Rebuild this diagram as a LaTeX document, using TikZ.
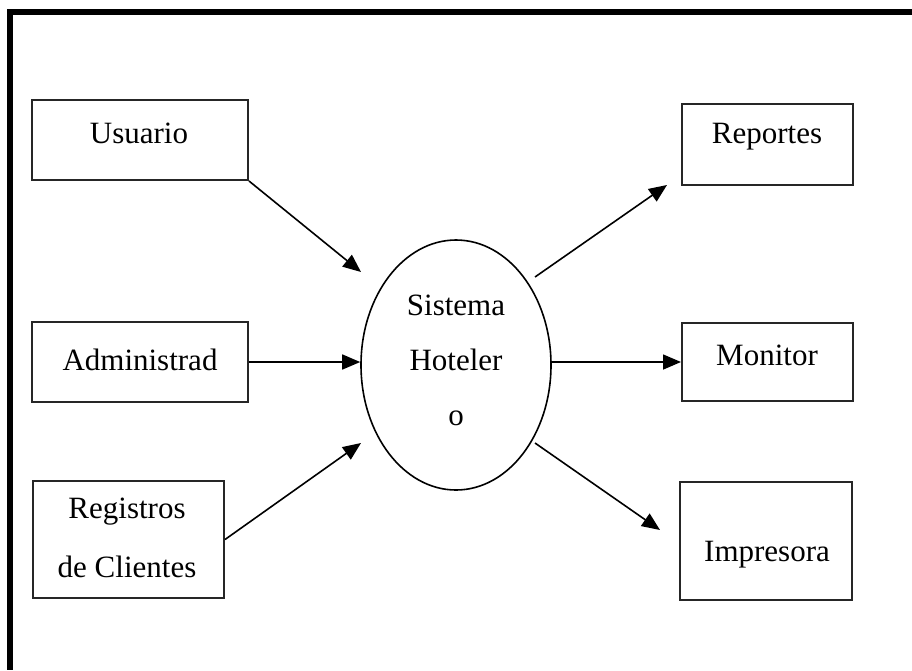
\documentclass[tikz,border=0pt]{standalone}
\usepackage{fontspec}
\setmainfont{Liberation Serif}
\usetikzlibrary{arrows.meta,shapes.geometric}
\begin{document}
\begin{tikzpicture}[x=1pt,y=-1pt,
  box/.style={draw=black!85,line width=2pt,rectangle,inner sep=0pt},
  txt/.style={font=\fontsize{31}{55}\selectfont,inner sep=0pt,align=center},
  flow/.style={line width=1.6pt,-{Triangle[length=18pt,width=15pt]}},
  frame/.style={line width=6pt,miter limit=10}]
\useasboundingbox (0,0) rectangle (912,670);
% frame edges
\draw[frame] (912,12) -- (10,12) -- (10,670);

% sources
\node[box,minimum width=216pt,minimum height=80pt] (usr) at (140,140) {};
\node[txt] (usrt) at (139,133) {Usuario};
\node[box,minimum width=216pt,minimum height=80pt] (adm) at (140,362) {};
\node[txt] (admt) at (140,360) {Administrad};
\node[box,minimum width=191pt,minimum height=117pt] (reg) at (128.5,539.5) {};
\node[txt] (regt1) at (127,512) {Registros};
\node[txt] (regt2) at (127,567) {de Clientes};

% system
\node[draw,line width=1.6pt,ellipse,minimum width=190pt,minimum height=250pt,inner sep=0pt] (sys) at (456,365) {};
\node[txt] (syst) at (456,360) {Sistema\\Hoteler\\o};

% outputs
\node[box,minimum width=171pt,minimum height=81pt] (rep) at (767.5,144.5) {};
\node[txt] (rept) at (767,137) {Reportes};
\node[box,minimum width=171pt,minimum height=78pt] (mon) at (767.5,362) {};
\node[txt] (mont) at (767,355) {Monitor};
\node[box,minimum width=172pt,minimum height=118pt] (imp) at (766,541) {};
\node[txt] (impt) at (767,555) {Impresora};

% connector ends
\coordinate (inA) at (361,272);
\coordinate (inC) at (361,443);
\coordinate (outAs) at (535,277);
\coordinate (outA) at (667,185);
\coordinate (outCs) at (535,443);
\coordinate (outC) at (660,530);

% flows
\draw[flow] (usr.south east) -- (inA);
\draw[flow] (adm.east) -- (adm.east -| sys.west);
\draw[flow] (reg.east) -- (inC);
\draw[flow] (outAs) -- (outA);
\draw[flow] (mon.west -| sys.east) -- (mon.west);
\draw[flow] (outCs) -- (outC);
\end{tikzpicture}
\end{document}
